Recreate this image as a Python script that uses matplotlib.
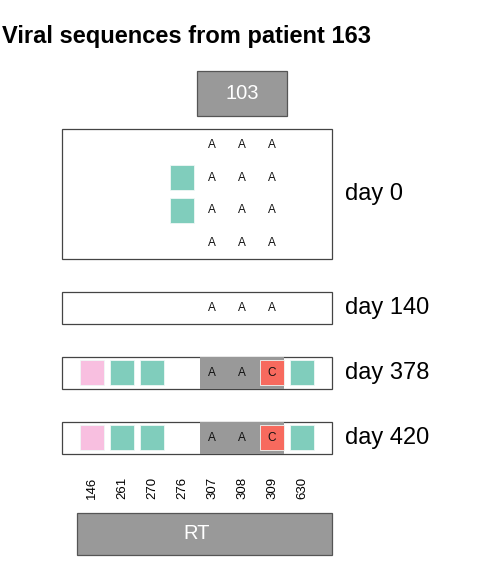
import matplotlib.pyplot as plt
from matplotlib.patches import Rectangle

plt.rcParams['font.family'] = ['Liberation Sans', 'DejaVu Sans']

positions = ["146", "261", "270", "276", "307", "308", "309", "630"]
days = ["day 0", "day 140", "day 378", "day 420"]
# one list of sequences per sample, one code per position
# "" nothing, "A" letter only, "t" teal cell, "p" pink cell, "C" red cell with letter
samples = [
    [["", "", "", "", "A", "A", "A", ""],
     ["", "", "", "t", "A", "A", "A", ""],
     ["", "", "", "t", "A", "A", "A", ""],
     ["", "", "", "", "A", "A", "A", ""]],
    [["", "", "", "", "A", "A", "A", ""]],
    [["p", "t", "t", "", "A", "A", "C", "t"]],
    [["p", "t", "t", "", "A", "A", "C", "t"]],
]
# shaded position range per sample (first, last index) or None
shaded = [None, None, (4, 6), (4, 6)]
region_label = "103"
region_span = (4, 6)
gene_label = "RT"

colors = {"t": "#80CDBC", "p": "#F8BFE0", "C": "#F76A5E"}

fig = plt.figure(figsize=(5, 5.7), dpi=100)
ax = fig.add_axes([0, 0, 1, 1])
ax.set_xlim(-62 / 30, 438 / 30)
ax.set_ylim(441 / 32.5, -129 / 32.5)
ax.axis("off")

n = len(positions)
y0 = 0
for day, seqs, sh in zip(days, samples, shaded):
    h = len(seqs)
    ax.add_patch(Rectangle((0, y0), n + 1, h, facecolor="white",
                           edgecolor="#444444", lw=0.9, zorder=1))
    if sh is not None:
        ax.add_patch(Rectangle((sh[0] + 1 - 0.4, y0), sh[1] - sh[0] + 0.8, h,
                               facecolor="#999999", edgecolor="none", zorder=2))
    for r, seq in enumerate(seqs):
        yc = y0 + r + 0.5
        for i, code in enumerate(seq):
            xc = i + 1
            if code in colors:
                ax.add_patch(Rectangle((xc - 0.4, yc - 0.39), 0.8, 0.78,
                                       facecolor=colors[code], edgecolor="#F0F8F6",
                                       lw=0.6, zorder=3))
            if code in ("A", "C"):
                ax.text(xc, yc, code, ha="center", va="center", fontsize=8.5,
                        color="#111111", zorder=4)
    ax.text(n + 1.43, y0 + h / 2, day, ha="left", va="center", fontsize=17)
    y0 += h + 1

# region box on top
ax.add_patch(Rectangle((region_span[0] + 0.5, -1.78), region_span[1] - region_span[0] + 1, 1.38,
                       facecolor="#999999", edgecolor="#555555", lw=0.9))
ax.text((region_span[0] + region_span[1]) / 2 + 1, -1.09, region_label,
        ha="center", va="center", fontsize=14.5, color="white")

# position labels
for i, p in enumerate(positions):
    ax.text(i + 1, y0 + 0.05, p, rotation=90, ha="center", va="center", fontsize=9.5)

# gene box at bottom
ax.add_patch(Rectangle((0.5, y0 + 0.8), n + 0.5, 1.3,
                       facecolor="#999999", edgecolor="#555555", lw=0.9))
ax.text(4.5, y0 + 1.45, gene_label, ha="center", va="center", fontsize=14.5, color="white")

fig.text(0.004, 1 - 37 / 570, "Viral sequences from patient 163", ha="left", va="center",
         fontsize=17, fontweight="bold")

fig.savefig("out.png", dpi=100)
